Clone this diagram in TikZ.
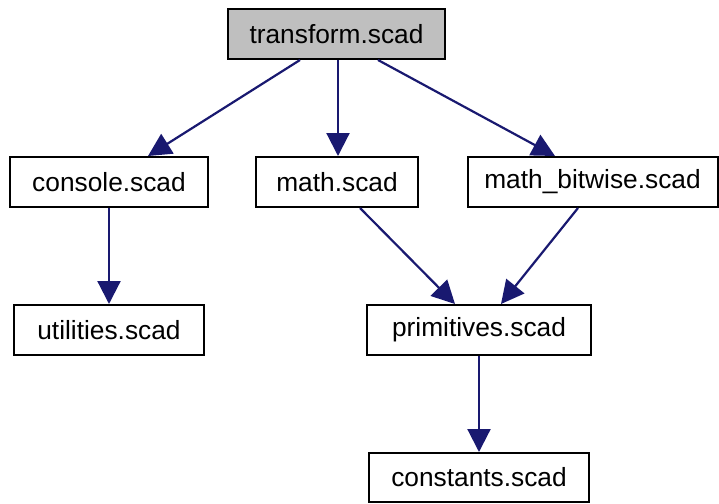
\documentclass[tikz,border=0pt]{standalone}
\usepackage{fontspec}
\setmainfont{Liberation Sans}
\usetikzlibrary{arrows.meta,calc}
\definecolor{edgeblue}{HTML}{191970}
\definecolor{rootgray}{HTML}{BFBFBF}
\tikzset{
  filebox/.style={draw=black, line width=2pt, fill=white, minimum height=50pt, inner sep=0pt, font=\fontsize{26.3}{30}\selectfont},
  dep/.style={draw=edgeblue, line width=2.2pt, -{Triangle[length=23pt,width=23pt]}}
}
\begin{document}
\begin{tikzpicture}[x=1pt,y=-1pt]
\useasboundingbox (0,0) rectangle (719,503);
\node[filebox, fill=rootgray, minimum width=217pt] (transform) at (336.5,34) {transform.scad};
\node[filebox, minimum width=198pt] (console) at (109,182) {console.scad};
\node[filebox, minimum width=162pt] (math) at (337,182) {math.scad};
\node[filebox, minimum width=250pt] (bitwise) at (592.5,182) {math\_bitwise.scad};
\node[filebox, minimum width=190pt] (utilities) at (109,330) {utilities.scad};
\node[filebox, minimum width=224pt] (primitives) at (479,330) {primitives.scad};
\node[filebox, minimum width=220pt, minimum height=49pt] (constants) at (479,477.5) {constants.scad};
\draw[dep] ([xshift=-36.5pt]transform.south) -- ([xshift=39pt]console.north);
\draw[dep] ([xshift=1.5pt]transform.south) -- ([xshift=1pt]math.north);
\draw[dep] ([xshift=41.5pt]transform.south) -- ([xshift=-37.5pt]bitwise.north);
\draw[dep] (console.south) -- (utilities.north);
\draw[dep] ([xshift=23pt]math.south) -- ([xshift=-24pt]primitives.north);
\draw[dep] ([xshift=-14.5pt]bitwise.south) -- ([xshift=22pt]primitives.north);
\draw[dep] (primitives.south) -- (constants.north);
\end{tikzpicture}
\end{document}
